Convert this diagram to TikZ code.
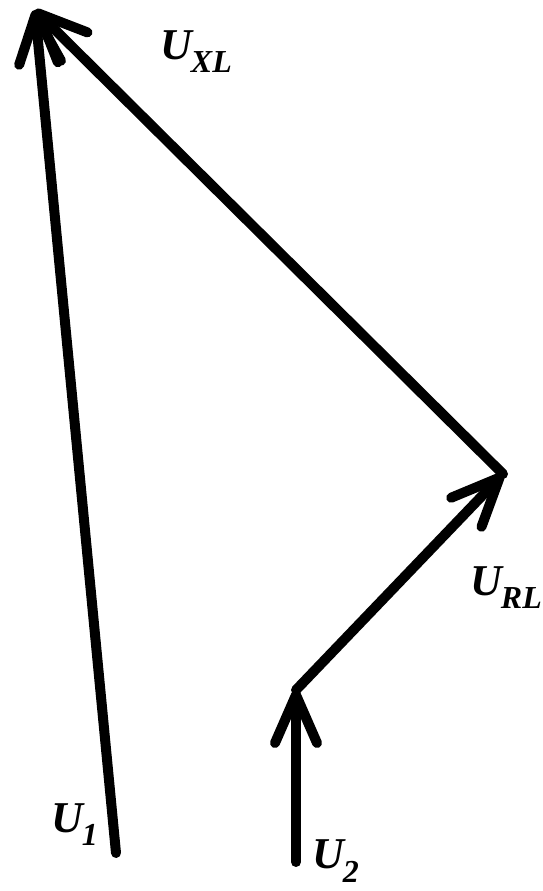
\documentclass[tikz,border=0pt]{standalone}
\usepackage{fontspec}
\setmainfont{Liberation Serif}
\usetikzlibrary{arrows.meta}
\newcommand\vlbl[2]{\fontsize{44}{44}\selectfont\bfseries\itshape #1\kern-1pt\raisebox{-13pt}{\fontsize{32}{32}\selectfont #2}}
\begin{document}
\begin{tikzpicture}[x=1pt,y=1pt,
  vec/.style={line width=10pt,line cap=round,line join=round,
    -{Straight Barb[length=48pt,width=42pt,round]}},
  lab/.style={inner sep=0pt,anchor=base west}]
\useasboundingbox (0,0) rectangle (542,891);
\coordinate (p1) at (116,38);
\coordinate (top) at (35,881);
\coordinate (corner) at (503,417);
\coordinate (mid) at (296,201);
\coordinate (p2) at (296,29);
\draw[vec] (p1) -- (top);
\draw[vec] (corner) -- (top);
\draw[vec] (mid) -- (corner);
\draw[vec] (p2) -- (mid);
\node[lab] (lxl) at (160,831) {\vlbl{U}{XL}};
\node[lab] (lrl) at (470,295) {\vlbl{U}{RL}};
\node[lab] (l1) at (51,58) {\vlbl{U}{1}};
\node[lab] (l2) at (312,22) {\vlbl{U}{2}};
\end{tikzpicture}
\end{document}
